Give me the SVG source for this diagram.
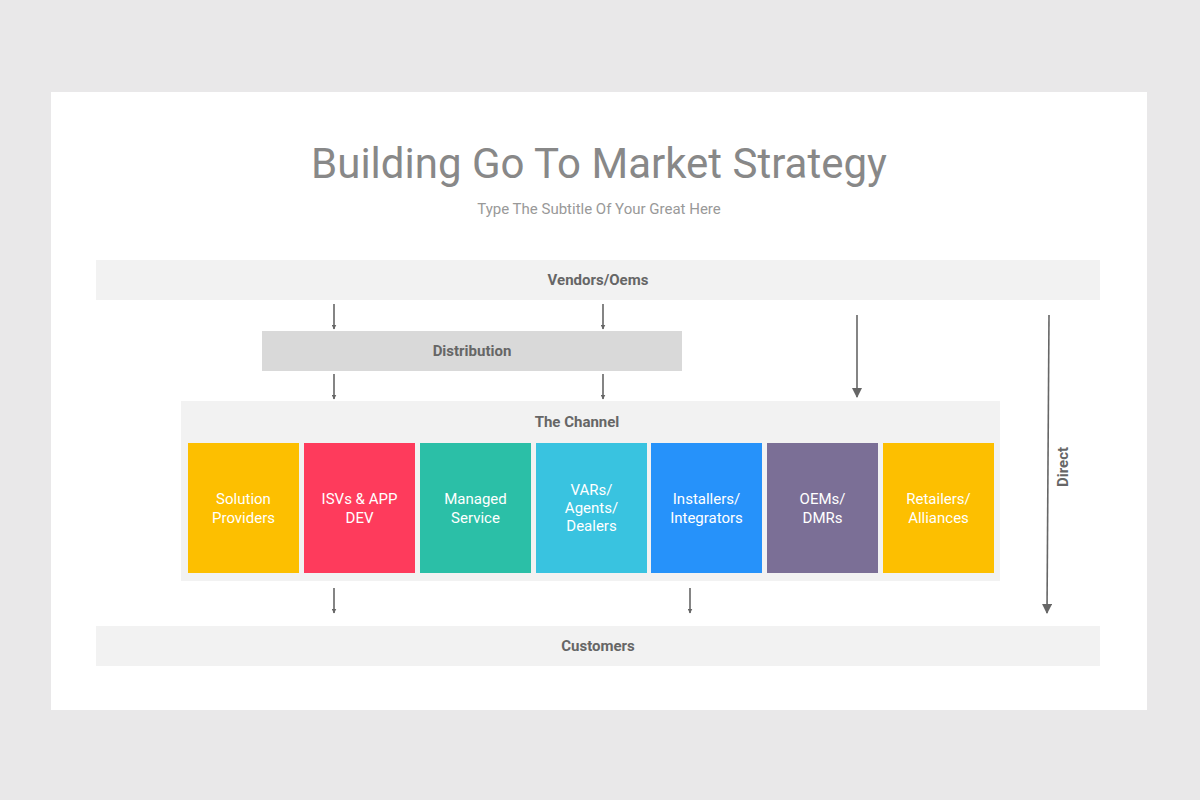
<svg xmlns="http://www.w3.org/2000/svg" width="1200" height="800" viewBox="0 0 1200 800">
<style>
text{font-family:Roboto,"Liberation Sans",sans-serif;text-anchor:middle}
.band{fill:#f2f2f2}
.lbl{font-size:15px;font-weight:bold;fill:#666}
.cell{font-size:15px;fill:#fff}
.c line{stroke:#666;stroke-width:1.6;marker-end:url(#ah)}
</style>
<defs><marker id="ah" viewBox="0 0 10 10" refX="9" refY="5" markerWidth="5" markerHeight="5" orient="auto" markerUnits="userSpaceOnUse"><path d="M0,0L10,5L0,10z" fill="#666"/></marker>
<marker id="ah2" viewBox="0 0 10 10" refX="9" refY="5" markerWidth="10" markerHeight="10" orient="auto" markerUnits="userSpaceOnUse"><path d="M0,0L10,5L0,10z" fill="#666"/></marker></defs>
<rect width="1200" height="800" fill="#e9e8e9"/>
<rect x="51" y="92" width="1096" height="618" fill="#fff"/>
<text x="599" y="178" font-size="42" fill="#888">Building Go To Market Strategy</text>
<text x="599" y="214" font-size="15" fill="#999">Type The Subtitle Of Your Great Here</text>
<g id="vendors"><rect class="band" x="96" y="260" width="1004" height="40"/><text class="lbl" x="598" y="285">Vendors/Oems</text></g>
<g id="distribution"><rect x="262" y="331" width="420" height="40" fill="#d9d9d9"/><text class="lbl" x="472" y="356">Distribution</text></g>
<g id="channel"><rect class="band" x="181" y="401" width="819" height="180"/><text class="lbl" x="577" y="427">The Channel</text></g>
<g id="n1"><rect x="188" y="443" width="111" height="130" fill="#fdbf00"/><text class="cell" x="243.5" y="504">Solution</text><text class="cell" x="243.5" y="523">Providers</text></g>
<g id="n2"><rect x="304" y="443" width="111" height="130" fill="#fe3b5c"/><text class="cell" x="359.5" y="504">ISVs &amp; APP</text><text class="cell" x="359.5" y="523">DEV</text></g>
<g id="n3"><rect x="420" y="443" width="111" height="130" fill="#2bbfa7"/><text class="cell" x="475.5" y="504">Managed</text><text class="cell" x="475.5" y="523">Service</text></g>
<g id="n4"><rect x="536" y="443" width="111" height="130" fill="#39c3e0"/><text class="cell" x="591.5" y="495">VARs/</text><text class="cell" x="591.5" y="513">Agents/</text><text class="cell" x="591.5" y="531">Dealers</text></g>
<g id="n5"><rect x="651" y="443" width="111" height="130" fill="#2692fa"/><text class="cell" x="706.5" y="504">Installers/</text><text class="cell" x="706.5" y="523">Integrators</text></g>
<g id="n6"><rect x="767" y="443" width="111" height="130" fill="#7b6f96"/><text class="cell" x="822.5" y="504">OEMs/</text><text class="cell" x="822.5" y="523">DMRs</text></g>
<g id="n7"><rect x="883" y="443" width="111" height="130" fill="#fdbf00"/><text class="cell" x="938.5" y="504">Retailers/</text><text class="cell" x="938.5" y="523">Alliances</text></g>
<g id="customers"><rect class="band" x="96" y="626" width="1004" height="40"/><text class="lbl" x="598" y="651">Customers</text></g>
<g class="c" id="connectors">
<line x1="334" y1="304" x2="334" y2="329"/>
<line x1="603" y1="304" x2="603" y2="329"/>
<line x1="334" y1="374" x2="334" y2="399"/>
<line x1="603" y1="374" x2="603" y2="399"/>
<line x1="857" y1="315" x2="857" y2="397" style="marker-end:url(#ah2)"/>
<line x1="334" y1="588" x2="334" y2="613"/>
<line x1="690" y1="588" x2="690" y2="613"/>
<line x1="1049" y1="315" x2="1047" y2="613" style="marker-end:url(#ah2)"/>
</g>
<text class="lbl" x="0" y="0" transform="translate(1068,467) rotate(-90)">Direct</text>
</svg>
